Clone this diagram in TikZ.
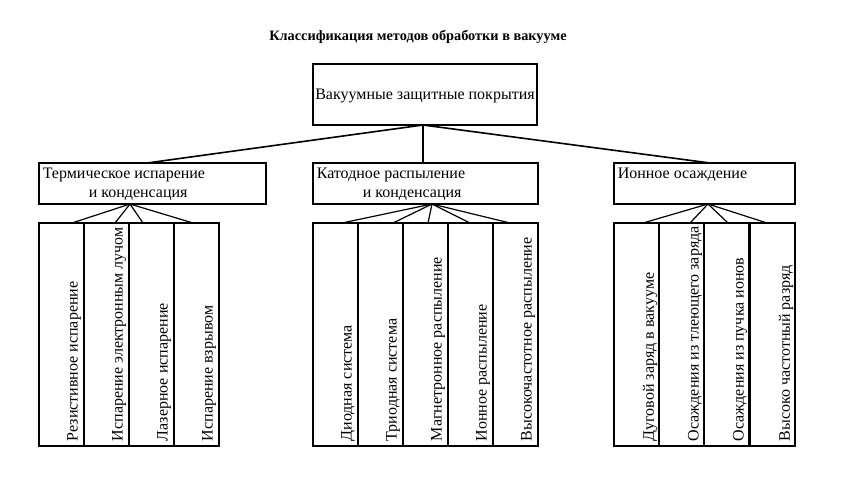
\documentclass[tikz,border=0pt]{standalone}
\usepackage{fontspec}
\setmainfont{Liberation Serif}
\begin{document}
\begin{tikzpicture}[x=1pt,y=-1pt,line width=1.6pt,
  bx/.style={draw,line width=1.6pt},
  tx/.style={font=\fontsize{16}{16}\selectfont,inner sep=0pt},
  vt/.style={tx,rotate=90,anchor=west}]
\useasboundingbox (0,0) rectangle (843,482);
\node[font=\bfseries\fontsize{14.3}{14.3}\selectfont] (title) at (418,37) {Классификация методов обработки в вакууме};
\draw[bx] (313,64) rectangle (537,125);
\node[tx] (top) at (425,96) {Вакуумные защитные покрытия};
\coordinate (tb) at (423,125);
% group boxes
\draw[bx] (39,163) rectangle (266,204);
\node[tx,anchor=west] (g1a) at (42,175) {Термическое испарение};
\node[tx,anchor=west] (g1b) at (88,195) {и конденсация};
\draw[bx] (313,163) rectangle (538,204);
\node[tx,anchor=west] (g2a) at (316,175) {Катодное распыление};
\node[tx,anchor=west] (g2b) at (362,195) {и конденсация};
\draw[bx] (614,163) rectangle (795,204);
\node[tx,anchor=west] (g3a) at (617,175) {Ионное осаждение};
\coordinate (g1t) at (147,163);
\coordinate (g2t) at (423,163);
\coordinate (g3t) at (710,163);
\draw (tb) -- (g1t); \draw (tb) -- (g2t); \draw (tb) -- (g3t);
% columns
\foreach \x in {39,84,129,174} \draw[bx] (\x,223) rectangle ++(45,223);
\foreach \x in {313,358,403,448,493} \draw[bx] (\x,223) rectangle ++(45,223);
\foreach \x in {614,659,704,750} \draw[bx] (\x,223) rectangle ++(45,223);
% fans
\coordinate (a1) at (130,204);
\foreach \e in {72,115,143,193} \draw[line width=1.2pt] (a1) -- (\e,223);
\coordinate (a2) at (432,204);
\foreach \e in {342,393,428,470,510} \draw[line width=1.2pt] (a2) -- (\e,223);
\coordinate (a3) at (708,204);
\foreach \e in {643,690,728,767} \draw[line width=1.2pt] (a3) -- (\e,223);
% vertical texts
\node[vt] (c1) at (74,442) {Резистивное испарение};
\node[vt] (c2) at (119,442) {Испарение электронным лучом};
\node[vt] (c3) at (164,442) {Лазерное испарение};
\node[vt] (c4) at (209,442) {Испарение взрывом};
\node[vt] (d1) at (348,442) {Диодная система};
\node[vt] (d2) at (393,442) {Триодная система};
\node[vt] (d3) at (438,442) {Магнетронное распыление};
\node[vt] (d4) at (483,442) {Ионное распыление};
\node[vt] (d5) at (528,442) {Высокочастотное распыление};
\node[vt] (e1) at (650,442) {Дуговой заряд в вакууме};
\node[vt] (e2) at (695,442) {Осаждения из тлеющего заряда};
\node[vt] (e3) at (740,442) {Осаждения из пучка ионов};
\node[vt] (e4) at (786,442) {Высоко частотный разряд};
\end{tikzpicture}
\end{document}
